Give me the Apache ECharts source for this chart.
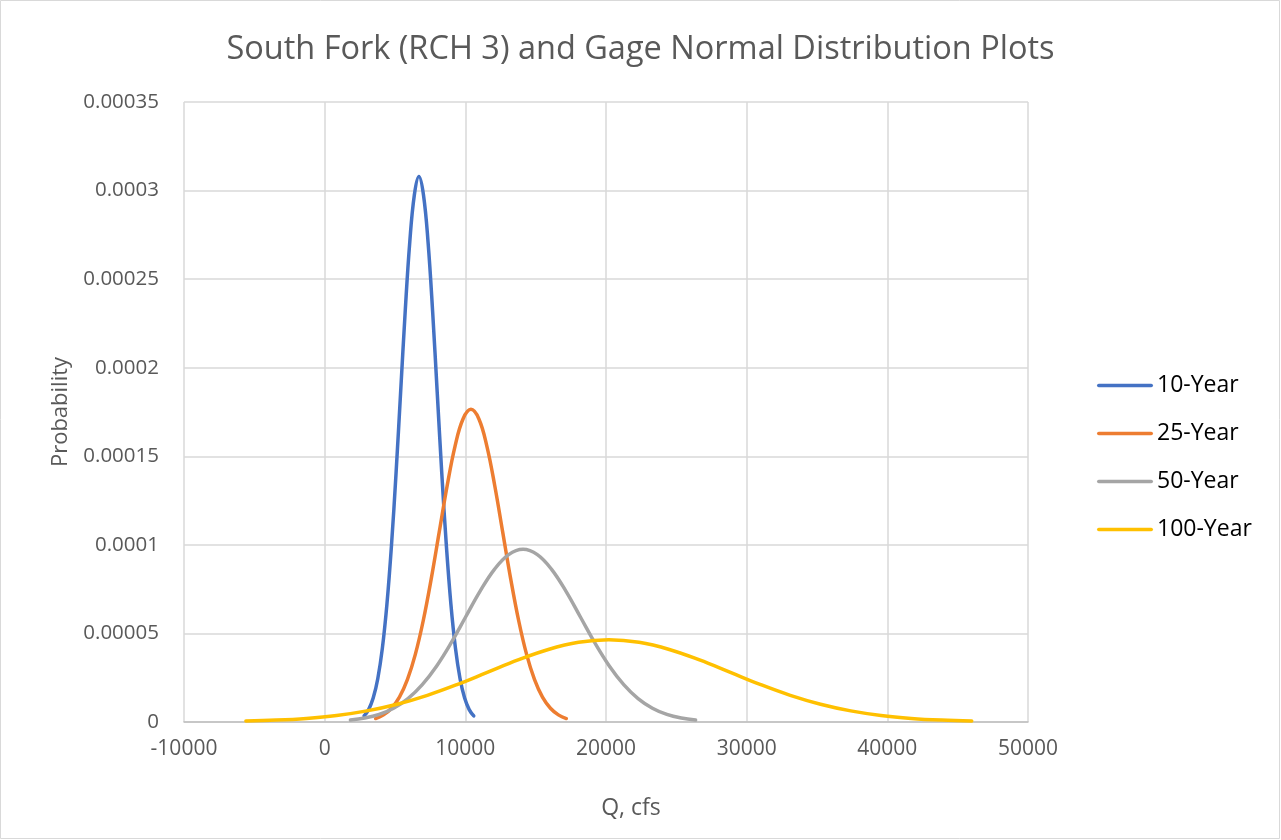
<!DOCTYPE html>
<html>
<head>
<meta charset="utf-8">
<script src="https://cdn.jsdelivr.net/npm/echarts@6/dist/echarts.min.js"></script>
<style>
html,body{margin:0;padding:0;background:#fff;}
#chart{width:1281px;height:840px;}
</style>
</head>
<body>
<div id="chart"></div>
<script>
// ---- Data ----
const seriesNames = ['10-Year', '25-Year', '50-Year', '100-Year'];

const x10 = [2800, 3125, 3450, 3775, 4100, 4425, 4750, 5075, 5400, 5725, 6050, 6375, 6700, 7025, 7350, 7675, 8000, 8325, 8650, 8975, 9300, 9625, 9950, 10275, 10600];
const y10 = [3.41e-6, 7.00e-6, 13.49e-6, 24.43e-6, 41.55e-6, 66.39e-6, 99.67e-6, 140.55e-6, 186.2e-6, 231.74e-6, 270.93e-6, 297.55e-6, 308e-6, 297.55e-6, 270.93e-6, 231.74e-6, 186.2e-6, 140.55e-6, 99.67e-6, 66.39e-6, 41.55e-6, 24.43e-6, 13.49e-6, 7.00e-6, 3.41e-6];

const x25 = [3620, 4185, 4750, 5315, 5880, 6445, 7010, 7575, 8140, 8705, 9270, 9835, 10400, 10965, 11530, 12095, 12660, 13225, 13790, 14355, 14920, 15485, 16050, 16615, 17180];
const y25 = [1.96e-6, 4.02e-6, 7.76e-6, 14.04e-6, 23.89e-6, 38.17e-6, 57.30e-6, 80.81e-6, 107.05e-6, 133.23e-6, 155.76e-6, 171.07e-6, 176.5e-6, 171.07e-6, 155.76e-6, 133.23e-6, 107.05e-6, 80.81e-6, 57.30e-6, 38.17e-6, 23.89e-6, 14.04e-6, 7.76e-6, 4.02e-6, 1.96e-6];

const x50 = [1830, 2850, 3875, 4900, 5920, 6940, 7965, 8990, 10010, 11030, 12055, 13080, 14100, 15120, 16145, 17170, 18190, 19210, 20235, 21260, 22280, 23300, 24325, 25350, 26370];
const y50 = [1.08e-6, 2.22e-6, 4.28e-6, 7.76e-6, 13.20e-6, 21.09e-6, 31.65e-6, 44.64e-6, 59.14e-6, 73.60e-6, 86.04e-6, 94.50e-6, 97.5e-6, 94.50e-6, 86.04e-6, 73.60e-6, 59.14e-6, 44.64e-6, 31.65e-6, 21.09e-6, 13.20e-6, 7.76e-6, 4.28e-6, 2.22e-6, 1.08e-6];

const x100 = [-5600, -3450, -1300, 850, 3000, 5150, 7300, 9450, 11600, 13750, 15900, 18050, 20200, 22350, 24500, 26650, 28800, 30950, 33100, 35250, 37400, 39550, 41700, 43850, 46000];
const y100 = [0.52e-6, 1.06e-6, 2.04e-6, 3.69e-6, 6.28e-6, 10.03e-6, 15.06e-6, 21.24e-6, 28.14e-6, 35.02e-6, 40.95e-6, 44.97e-6, 46.4e-6, 44.97e-6, 40.95e-6, 35.02e-6, 28.14e-6, 21.24e-6, 15.06e-6, 10.03e-6, 6.28e-6, 3.69e-6, 2.04e-6, 1.06e-6, 0.52e-6];

const yTickLabels = ['0', '0.00005', '0.0001', '0.00015', '0.0002', '0.00025', '0.0003', '0.00035'];
const xTickLabels = ['-10000', '0', '10000', '20000', '30000', '40000', '50000'];

// ---- Styling ----
const colors = ['#4472C4', '#ED7D31', '#A5A5A5', '#FFC000'];
const FONT = '"Open Sans", "Noto Sans", sans-serif';
const zip = (xs, ys) => xs.map((x, i) => [x, ys[i]]);
const allX = [x10, x25, x50, x100];
const allY = [y10, y25, y50, y100];

const chart = echarts.init(document.getElementById('chart'), null, {renderer: 'canvas'});
chart.setOption({
  animation: false,
  backgroundColor: '#ffffff',
  title: {
    text: 'South Fork (RCH 3) and Gage Normal Distribution Plots',
    left: 'center',
    top: 28,
    textStyle: {fontFamily: FONT, fontSize: 32.5, fontWeight: 'normal', color: '#595959'}
  },
  legend: {
    orient: 'vertical',
    left: 1092,
    top: 369,
    itemWidth: 56,
    itemHeight: 14,
    itemGap: 25,
    icon: 'path://M1.75,5.25 L54.25,5.25 A1.75,1.75 0 0 1 54.25,8.75 L1.75,8.75 A1.75,1.75 0 0 1 1.75,5.25 Z',
    textStyle: {fontFamily: FONT, fontSize: 23, color: '#000000', padding: [0, 0, 0, -1]},
    data: seriesNames.map((n, i) => ({name: n, itemStyle: {color: colors[i]}}))
  },
  graphic: [{
    type: 'rect',
    shape: {x: 0.5, y: 0.5, width: 1279, height: 838},
    style: {fill: 'none', stroke: '#d9d9d9', lineWidth: 1},
    silent: true
  }],
  grid: {left: 184, right: 253, top: 102, bottom: 118, containLabel: false},
  xAxis: {
    type: 'value',
    min: -10000,
    max: 50000,
    interval: 10000,
    name: 'Q, cfs',
    nameLocation: 'middle',
    nameGap: 75,
    nameTextStyle: {fontFamily: FONT, fontSize: 23, color: '#595959', padding: [0, 0, 0, 50]},
    axisLine: {show: true, onZero: false, lineStyle: {color: '#bfbfbf', width: 1.5}},
    axisTick: {show: false},
    axisLabel: {
      fontFamily: FONT, fontSize: 21, color: '#595959', margin: 17,
      formatter: v => xTickLabels[Math.round((v + 10000) / 10000)] ?? ''
    },
    splitLine: {show: true, lineStyle: {color: '#d9d9d9', width: 1.5}}
  },
  yAxis: {
    type: 'value',
    min: 0,
    max: 0.00035,
    interval: 0.00005,
    name: 'Probability',
    nameLocation: 'middle',
    nameGap: 112,
    nameRotate: 90,
    nameTextStyle: {fontFamily: FONT, fontSize: 22, color: '#595959'},
    axisLine: {show: false},
    axisTick: {show: false},
    axisLabel: {
      fontFamily: FONT, fontSize: 20.5, color: '#595959', margin: 25,
      formatter: v => yTickLabels[Math.round(v / 0.00005)] ?? ''
    },
    splitLine: {show: true, lineStyle: {color: '#d9d9d9', width: 1.5}}
  },
  series: seriesNames.map((n, i) => ({
    name: n,
    type: 'line',
    data: zip(allX[i], allY[i]),
    smooth: 0.4,
    showSymbol: false,
    symbol: 'none',
    lineStyle: {color: colors[i], width: 3.5, cap: 'round'},
    itemStyle: {color: colors[i]},
    z: 2 + i
  }))
});
</script>
</body>
</html>
